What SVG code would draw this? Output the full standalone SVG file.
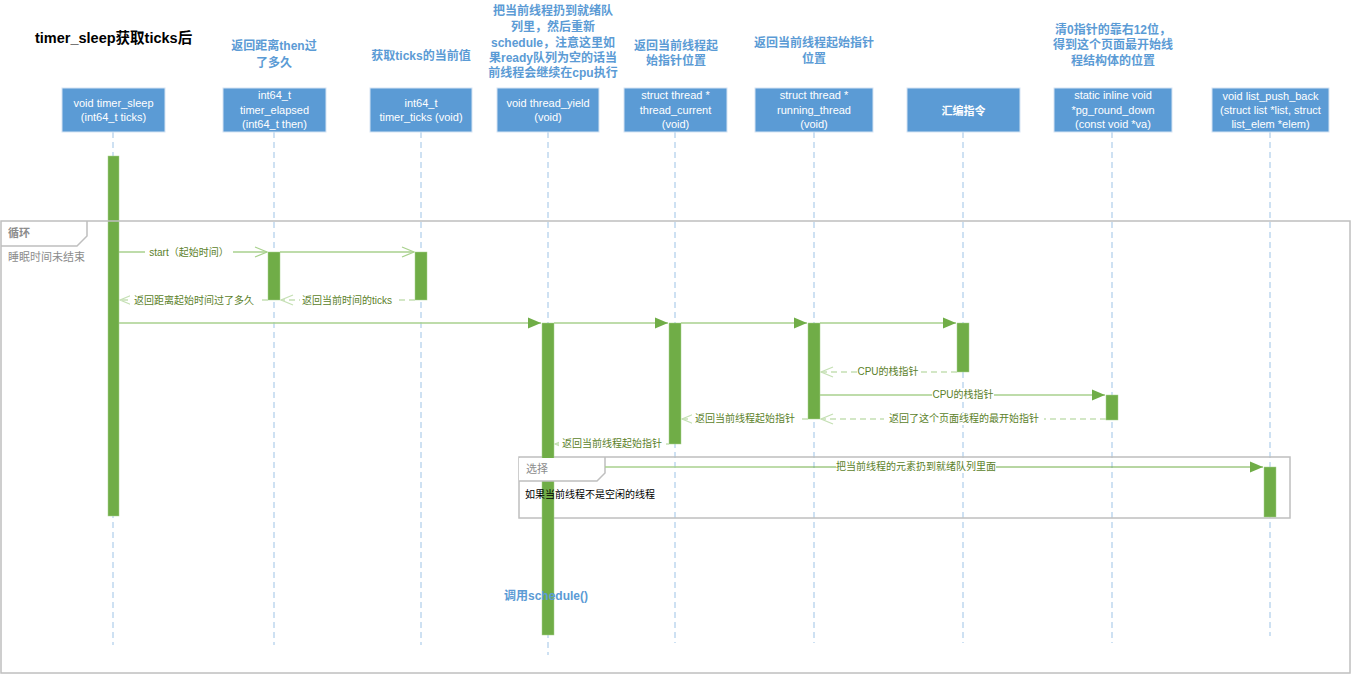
<svg xmlns="http://www.w3.org/2000/svg" width="1351" height="675" viewBox="0 0 1351 675">
<style>
.hdr{fill:#5B9BD5;stroke:#D6E4F3;stroke-width:1}
.ht{font-family:"Liberation Sans","Noto Sans CJK SC",sans-serif;font-size:11px;fill:#fff;text-anchor:middle}
.life{stroke:#9DC3E6;stroke-width:1;stroke-dasharray:6,4;fill:none}
.act{fill:#70AD47;stroke:#A9D18E;stroke-width:0.5}
.msg{stroke:#A9D18E;stroke-width:1.5;fill:none}
.ret{stroke:#C5E0B4;stroke-width:1.5;stroke-dasharray:6,4;fill:none}
.ml{font-family:"Liberation Sans","Noto Sans CJK SC",sans-serif;font-size:10px;fill:#5B7F2A;text-anchor:middle}
.note{font-family:"Liberation Sans","Noto Sans CJK SC",sans-serif;font-size:12px;font-weight:bold;fill:#5B9BD5;text-anchor:middle}
.frame{fill:none;stroke:#BFBFBF;stroke-width:1.5}
.ft{font-family:"Liberation Sans","Noto Sans CJK SC",sans-serif;font-size:11px;fill:#8C8C8C}
</style>
<defs>
<marker id="open" markerWidth="14" markerHeight="12" refX="13" refY="6" orient="auto" markerUnits="userSpaceOnUse"><path d="M1,1 L13,6 L1,11" fill="none" stroke="#A9D18E" stroke-width="1.3"/></marker>
<marker id="openr" markerWidth="14" markerHeight="12" refX="13" refY="6" orient="auto" markerUnits="userSpaceOnUse"><path d="M1,1 L13,6 L1,11" fill="none" stroke="#C5E0B4" stroke-width="1.3"/></marker>
<marker id="fill" markerWidth="14" markerHeight="12" refX="13" refY="6" orient="auto" markerUnits="userSpaceOnUse"><path d="M0,0.5 L13,6 L0,11.5 Z" fill="#70AD47"/></marker>
</defs>
<rect width="1351" height="675" fill="#fff"/>
<text x="35" y="43" font-family="'Liberation Sans','Noto Sans CJK SC',sans-serif" font-size="14.5" font-weight="bold" fill="#000">timer_sleep获取ticks后</text>

<g id="notes">
<text class="note" x="274" y="50">返回距离then过</text>
<text class="note" x="274" y="67">了多久</text>
<text class="note" x="421" y="60">获取ticks的当前值</text>
<text class="note" x="553" y="15">把当前线程扔到就绪队</text>
<text class="note" x="553" y="31">列里，然后重新</text>
<text class="note" x="553" y="47">schedule，注意这里如</text>
<text class="note" x="553" y="62">果ready队列为空的话当</text>
<text class="note" x="553" y="77">前线程会继续在cpu执行</text>
<text class="note" x="676" y="50">返回当前线程起</text>
<text class="note" x="676" y="65">始指针位置</text>
<text class="note" x="814" y="47">返回当前线程起始指针</text>
<text class="note" x="814" y="63">位置</text>
<text class="note" x="1113" y="34">清0指针的靠右12位，</text>
<text class="note" x="1113" y="49">得到这个页面最开始线</text>
<text class="note" x="1113" y="65">程结构体的位置</text>
</g>

<g id="lifelines">
<line class="life" x1="113" y1="132" x2="113" y2="645"/>
<line class="life" x1="274" y1="132" x2="274" y2="645"/>
<line class="life" x1="421" y1="132" x2="421" y2="645"/>
<line class="life" x1="548" y1="132" x2="548" y2="655"/>
<line class="life" x1="675" y1="132" x2="675" y2="643"/>
<line class="life" x1="814" y1="132" x2="814" y2="643"/>
<line class="life" x1="963" y1="132" x2="963" y2="643"/>
<line class="life" x1="1112" y1="132" x2="1112" y2="643"/>
<line class="life" x1="1270" y1="132" x2="1270" y2="636"/>
</g>

<g id="n1"><rect class="hdr" x="62" y="88" width="103" height="44"/><text class="ht" x="113.5" y="107">void timer_sleep</text><text class="ht" x="113.5" y="121">(int64_t ticks)</text></g>
<g id="n2"><rect class="hdr" x="223" y="88" width="103" height="44"/><text class="ht" x="274.5" y="99">int64_t</text><text class="ht" x="274.5" y="114">timer_elapsed</text><text class="ht" x="274.5" y="128">(int64_t then)</text></g>
<g id="n3"><rect class="hdr" x="370" y="88" width="102" height="44"/><text class="ht" x="421" y="107">int64_t</text><text class="ht" x="421" y="121">timer_ticks (void)</text></g>
<g id="n4"><rect class="hdr" x="497" y="88" width="102" height="44"/><text class="ht" x="548" y="107">void thread_yield</text><text class="ht" x="548" y="121">(void)</text></g>
<g id="n5"><rect class="hdr" x="624" y="88" width="103" height="44"/><text class="ht" x="675.5" y="99">struct thread *</text><text class="ht" x="675.5" y="114">thread_current</text><text class="ht" x="675.5" y="128">(void)</text></g>
<g id="n6"><rect class="hdr" x="755" y="88" width="118" height="44"/><text class="ht" x="814" y="99">struct thread *</text><text class="ht" x="814" y="114">running_thread</text><text class="ht" x="814" y="128">(void)</text></g>
<g id="n7"><rect class="hdr" x="907" y="88" width="113" height="44"/><text class="ht" x="963.5" y="115" font-size="12" font-weight="bold">汇编指令</text></g>
<g id="n8"><rect class="hdr" x="1054" y="88" width="118" height="44"/><text class="ht" x="1113" y="99">static inline void</text><text class="ht" x="1113" y="114">*pg_round_down</text><text class="ht" x="1113" y="128">(const void *va)</text></g>
<g id="n9"><rect class="hdr" x="1212" y="88" width="117" height="44"/><text class="ht" x="1270.5" y="100">void list_push_back</text><text class="ht" x="1270.5" y="114">(struct list *list, struct</text><text class="ht" x="1270.5" y="128">list_elem *elem)</text></g>

<g id="alt-frame">
<rect class="frame" x="519" y="457" width="771" height="61"/>
</g>

<g id="activations">
<rect class="act" x="108" y="156" width="11" height="360"/>
<rect class="act" x="268" y="252" width="12" height="48"/>
<rect class="act" x="415" y="252" width="12" height="48"/>
<rect class="act" x="542" y="323" width="12" height="312"/>
<rect class="act" x="669" y="323" width="12" height="121"/>
<rect class="act" x="808" y="323" width="12" height="96"/>
<rect class="act" x="957" y="323" width="12" height="49"/>
<rect class="act" x="1106" y="395" width="12" height="25"/>
<rect class="act" x="1264" y="467" width="12" height="50"/>
</g>

<g id="note-schedule">
<text class="note" x="546" y="600">调用schedule()</text>
</g>

<g id="loop">
<rect class="frame" x="1" y="221" width="1349" height="452"/>
<path class="frame" d="M1,246 H77 L87,236 V221"/>
<text class="ft" x="8" y="237" font-weight="bold">循环</text>
<text class="ft" x="8" y="261">睡眠时间未结束</text>
</g>

<g id="alt">
<path d="M519,458 V481 H597 L605,473 V458 Z" fill="#fff"/>
<path class="frame" d="M519,481 H597 L605,473 V457"/>
<text class="ft" x="526" y="473">选择</text>
<text x="525" y="498" font-family="'Liberation Sans','Noto Sans CJK SC',sans-serif" font-size="10" fill="#000">如果当前线程不是空闲的线程</text>
</g>

<g id="connectors">
<line class="msg" x1="119" y1="252" x2="267" y2="252" marker-end="url(#open)"/>
<rect x="145" y="246" width="88" height="12" fill="#fff"/>
<text class="ml" x="189" y="256">start（起始时间）</text>
<line class="msg" x1="280" y1="252" x2="414" y2="252" marker-end="url(#open)"/>

<line class="ret" x1="268" y1="300" x2="120" y2="300" marker-end="url(#openr)"/>
<rect x="130" y="294" width="130" height="12" fill="#fff"/>
<text class="ml" x="194" y="304">返回距离起始时间过了多久</text>
<line class="ret" x1="415" y1="300" x2="281" y2="300" marker-end="url(#openr)"/>
<rect x="300" y="294" width="96" height="12" fill="#fff"/>
<text class="ml" x="347" y="304">返回当前时间的ticks</text>

<line class="msg" x1="119" y1="323" x2="541" y2="323" marker-end="url(#fill)"/>
<line class="msg" x1="554" y1="323" x2="668" y2="323" marker-end="url(#fill)"/>
<line class="msg" x1="681" y1="323" x2="807" y2="323" marker-end="url(#fill)"/>
<line class="msg" x1="820" y1="323" x2="956" y2="323" marker-end="url(#fill)"/>

<line class="ret" x1="957" y1="372" x2="821" y2="372" marker-end="url(#openr)"/>
<rect x="857" y="366" width="62" height="12" fill="#fff"/>
<text class="ml" x="888" y="375">CPU的栈指针</text>

<line class="msg" x1="820" y1="395" x2="1105" y2="395" marker-end="url(#fill)"/>
<rect x="932" y="389" width="62" height="12" fill="#fff"/>
<text class="ml" x="963" y="398">CPU的栈指针</text>

<line class="ret" x1="1106" y1="419" x2="821" y2="419" marker-end="url(#openr)"/>
<rect x="884" y="413" width="160" height="12" fill="#fff"/>
<text class="ml" x="964" y="422">返回了这个页面线程的最开始指针</text>

<line class="ret" x1="808" y1="419" x2="682" y2="419" marker-end="url(#openr)"/>
<rect x="692" y="413" width="107" height="12" fill="#fff"/>
<text class="ml" x="745" y="422">返回当前线程起始指针</text>

<line class="ret" x1="669" y1="444" x2="555" y2="444" marker-end="url(#openr)"/>
<rect x="559" y="438" width="107" height="12" fill="#fff"/>
<text class="ml" x="612" y="447">返回当前线程起始指针</text>

<line class="msg" x1="605" y1="467" x2="790" y2="467"/>
<line x1="790" y1="467" x2="1263" y2="467" stroke="#70AD47" stroke-width="1" marker-end="url(#fill)"/>
<rect x="836" y="461" width="160" height="12" fill="#fff"/>
<text class="ml" x="916" y="470">把当前线程的元素扔到就绪队列里面</text>
</g>
</svg>
